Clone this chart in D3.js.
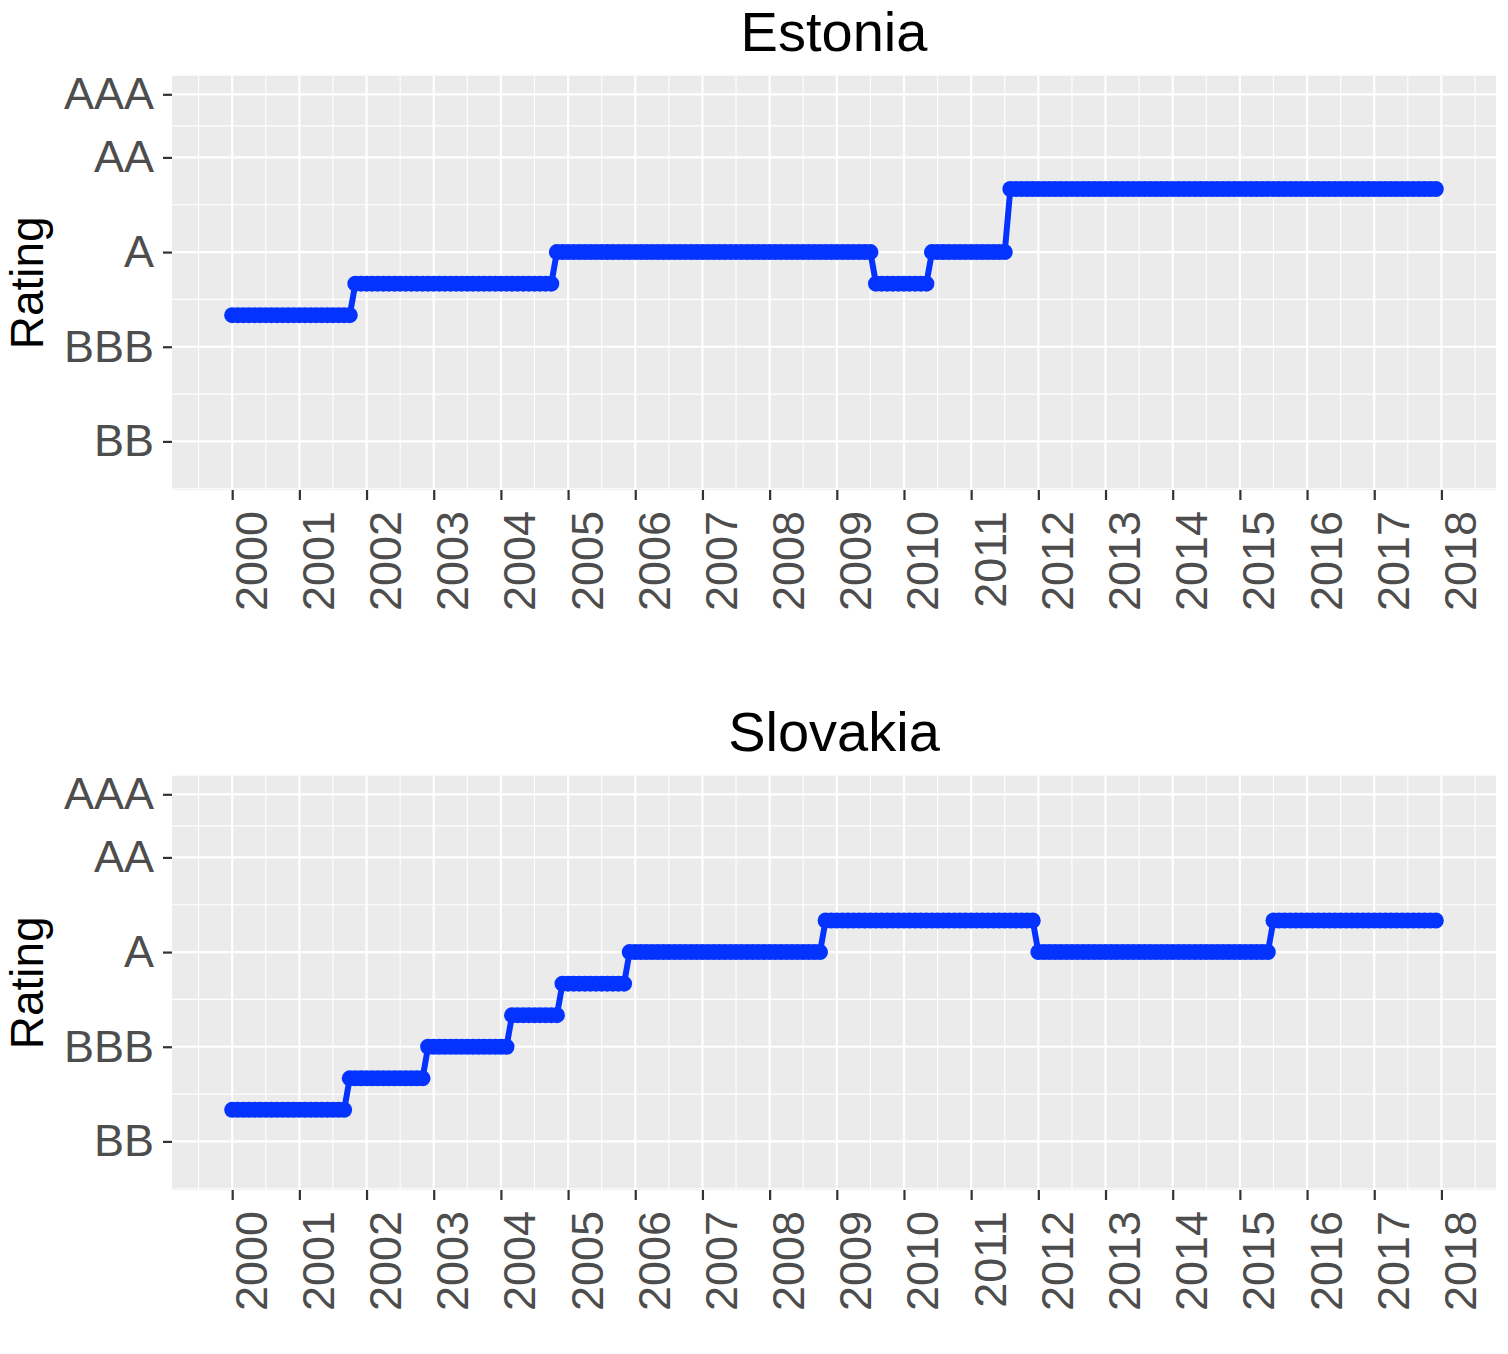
<!DOCTYPE html>
<html>
<head>
<meta charset="utf-8">
<script src="https://cdn.jsdelivr.net/npm/d3@7"></script>
<style>
  body { margin: 0; background: #fff; }
  svg { display: block; font-family: "Liberation Sans", Arial, Helvetica, sans-serif; }
</style>
</head>
<body>
<script>
// Rating scale (numeric notches) and their labels
const ratingLabels = ['BB', 'BBB', 'A', 'AA', 'AAA'];
const ratingValues = [9, 12, 15, 18, 20];
const ratingMinor = [7.5, 10.5, 13.5, 16.5, 19];

// Year ticks
const tickYears = [2000, 2001, 2002, 2003, 2004, 2005, 2006, 2007, 2008, 2009,
  2010, 2011, 2012, 2013, 2014, 2015, 2016, 2017, 2018];

// Monthly ratings, Jan 2000 .. Dec 2017 (one row per year)
const estonia = [
  13, 13, 13, 13, 13, 13, 13, 13, 13, 13, 13, 13,
  13, 13, 13, 13, 13, 13, 13, 13, 13, 13, 14, 14,
  14, 14, 14, 14, 14, 14, 14, 14, 14, 14, 14, 14,
  14, 14, 14, 14, 14, 14, 14, 14, 14, 14, 14, 14,
  14, 14, 14, 14, 14, 14, 14, 14, 14, 14, 15, 15,
  15, 15, 15, 15, 15, 15, 15, 15, 15, 15, 15, 15,
  15, 15, 15, 15, 15, 15, 15, 15, 15, 15, 15, 15,
  15, 15, 15, 15, 15, 15, 15, 15, 15, 15, 15, 15,
  15, 15, 15, 15, 15, 15, 15, 15, 15, 15, 15, 15,
  15, 15, 15, 15, 15, 15, 15, 14, 14, 14, 14, 14,
  14, 14, 14, 14, 14, 15, 15, 15, 15, 15, 15, 15,
  15, 15, 15, 15, 15, 15, 15, 17, 17, 17, 17, 17,
  17, 17, 17, 17, 17, 17, 17, 17, 17, 17, 17, 17,
  17, 17, 17, 17, 17, 17, 17, 17, 17, 17, 17, 17,
  17, 17, 17, 17, 17, 17, 17, 17, 17, 17, 17, 17,
  17, 17, 17, 17, 17, 17, 17, 17, 17, 17, 17, 17,
  17, 17, 17, 17, 17, 17, 17, 17, 17, 17, 17, 17,
  17, 17, 17, 17, 17, 17, 17, 17, 17, 17, 17, 17
];

const slovakia = [
  10, 10, 10, 10, 10, 10, 10, 10, 10, 10, 10, 10,
  10, 10, 10, 10, 10, 10, 10, 10, 10, 11, 11, 11,
  11, 11, 11, 11, 11, 11, 11, 11, 11, 11, 11, 12,
  12, 12, 12, 12, 12, 12, 12, 12, 12, 12, 12, 12,
  12, 12, 13, 13, 13, 13, 13, 13, 13, 13, 13, 14,
  14, 14, 14, 14, 14, 14, 14, 14, 14, 14, 14, 15,
  15, 15, 15, 15, 15, 15, 15, 15, 15, 15, 15, 15,
  15, 15, 15, 15, 15, 15, 15, 15, 15, 15, 15, 15,
  15, 15, 15, 15, 15, 15, 15, 15, 15, 15, 16, 16,
  16, 16, 16, 16, 16, 16, 16, 16, 16, 16, 16, 16,
  16, 16, 16, 16, 16, 16, 16, 16, 16, 16, 16, 16,
  16, 16, 16, 16, 16, 16, 16, 16, 16, 16, 16, 16,
  15, 15, 15, 15, 15, 15, 15, 15, 15, 15, 15, 15,
  15, 15, 15, 15, 15, 15, 15, 15, 15, 15, 15, 15,
  15, 15, 15, 15, 15, 15, 15, 15, 15, 15, 15, 15,
  15, 15, 15, 15, 15, 15, 16, 16, 16, 16, 16, 16,
  16, 16, 16, 16, 16, 16, 16, 16, 16, 16, 16, 16,
  16, 16, 16, 16, 16, 16, 16, 16, 16, 16, 16, 16
];

const countries = ['Estonia', 'Slovakia'];
const series = [estonia, slovakia];
const startYear = 2000;

const width = 1508;
const height = 1354;
const lineColor = '#0433ff';

const svg = d3.select('body')
  .append('svg')
  .attr('width', width)
  .attr('height', height);

// x scale in decimal years, with ggplot's 5% expansion
const dataEnd = startYear + (estonia.length - 1) / 12;
const pad = (dataEnd - startYear) * 0.05;
const x = d3.scaleLinear()
  .domain([startYear - pad, dataEnd + pad])
  .range([172, 1496]);

const minorYears = tickYears.map(d => d - 0.5).concat([2018.5]);

countries.forEach((name, k) => {
  const top = 75.7 + k * 700;
  const bottom = 490 + k * 700;
  const y = d3.scaleLinear().domain([7.46, 20.59]).range([bottom, top]);
  const values = series[k];
  const points = values.map((v, i) => ({ t: startYear + i / 12, v: v }));

  const g = svg.append('g');

  // panel background
  g.append('rect')
    .attr('x', x.range()[0])
    .attr('y', top)
    .attr('width', x.range()[1] - x.range()[0])
    .attr('height', bottom - top)
    .attr('fill', '#ebebeb');

  // minor grid
  g.selectAll('.ymin').data(ratingMinor).enter().append('line')
    .attr('x1', x.range()[0]).attr('x2', x.range()[1])
    .attr('y1', d => y(d)).attr('y2', d => y(d))
    .attr('stroke', '#fff').attr('stroke-width', 1.1);
  g.selectAll('.xmin').data(minorYears).enter().append('line')
    .attr('x1', d => x(d)).attr('x2', d => x(d))
    .attr('y1', top).attr('y2', bottom)
    .attr('stroke', '#fff').attr('stroke-width', 1.1);

  // major grid
  g.selectAll('.ymaj').data(ratingValues).enter().append('line')
    .attr('x1', x.range()[0]).attr('x2', x.range()[1])
    .attr('y1', d => y(d)).attr('y2', d => y(d))
    .attr('stroke', '#fff').attr('stroke-width', 2.2);
  g.selectAll('.xmaj').data(tickYears).enter().append('line')
    .attr('x1', d => x(d)).attr('x2', d => x(d))
    .attr('y1', top).attr('y2', bottom)
    .attr('stroke', '#fff').attr('stroke-width', 2.2);

  // line + points
  g.append('path')
    .datum(points)
    .attr('fill', 'none')
    .attr('stroke', lineColor)
    .attr('stroke-width', 6)
    .attr('stroke-linejoin', 'round')
    .attr('d', d3.line().x(d => x(d.t)).y(d => y(d.v)));

  g.selectAll('circle').data(points).enter().append('circle')
    .attr('cx', d => x(d.t))
    .attr('cy', d => y(d.v))
    .attr('r', 8)
    .attr('fill', lineColor);

  // y axis
  const yAxis = g.append('g')
    .attr('transform', `translate(${x.range()[0]},0)`)
    .call(d3.axisLeft(y).tickValues(ratingValues)
      .tickFormat((d, i) => ratingLabels[i]).tickSize(9).tickPadding(9));
  yAxis.select('.domain').remove();
  yAxis.selectAll('.tick line').attr('stroke', '#333').attr('stroke-width', 2.2);
  yAxis.selectAll('.tick text')
    .attr('fill', '#4d4d4d')
    .attr('font-size', 45)
    .attr('font-family', '"Liberation Sans", Arial, sans-serif');

  // x axis
  const xAxis = g.append('g')
    .attr('transform', `translate(0,${bottom})`)
    .call(d3.axisBottom(x).tickValues(tickYears).tickFormat(d3.format('d')).tickSize(10));
  xAxis.select('.domain').remove();
  xAxis.selectAll('.tick line').attr('stroke', '#333').attr('stroke-width', 2.2);
  xAxis.selectAll('.tick text')
    .attr('fill', '#4d4d4d')
    .attr('font-size', 45)
    .attr('font-family', '"Liberation Sans", Arial, sans-serif')
    .attr('text-anchor', 'end')
    .attr('dy', null)
    .attr('y', null)
    .attr('transform', 'translate(34,21) rotate(-90)');

  // title
  svg.append('text')
    .text(name)
    .attr('x', (x.range()[0] + x.range()[1]) / 2)
    .attr('y', 51 + k * 700)
    .attr('text-anchor', 'middle')
    .attr('font-size', 56)
    .attr('fill', '#000');

  // y axis title
  svg.append('text')
    .text('Rating')
    .attr('transform', `translate(43,${(top + bottom) / 2}) rotate(-90)`)
    .attr('text-anchor', 'middle')
    .attr('font-size', 46)
    .attr('fill', '#000');
});
</script>
</body>
</html>
